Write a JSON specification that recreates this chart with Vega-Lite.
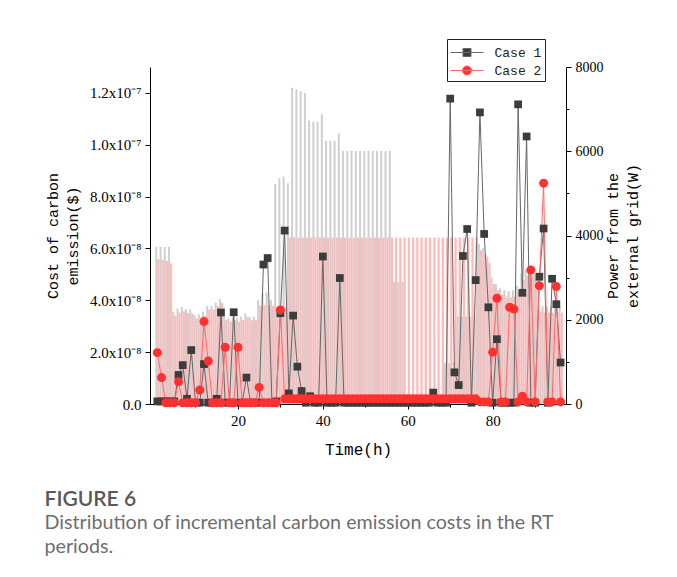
{
 "$schema": "https://vega.github.io/schema/vega-lite/v6.json",
 "width": 416,
 "height": 337,
 "autosize": {"type": "none"},
 "padding": {"left": 150, "top": 67, "right": 111, "bottom": 173},
 "background": "white",
 "config": {
  "view": {"stroke": null},
  "axis": {"grid": false, "domainColor": "#000", "tickColor": "#000", "labelColor": "#000", "titleColor": "#000", "labelFont": "Liberation Serif", "labelFontSize": 15, "titleFont": "Liberation Mono", "titleFontSize": 15, "titleFontWeight": "normal", "titleLineHeight": 20}
 },
 "title": {
  "text": "FIGURE 6",
  "subtitle": ["Distribution of incremental carbon emission costs in the RT", "periods."],
  "orient": "bottom", "anchor": "start", "frame": "bounds", "offset": 32, "dx": -1,
  "font": "Lato", "fontSize": 21, "fontWeight": 600, "color": "#585858",
  "subtitleFont": "Lato", "subtitleFontSize": 19.7, "subtitleColor": "#6e6e6e", "subtitleLineHeight": 24, "subtitlePadding": 3
 },
 "data": {"values": [
  {"t":1,"Case 1":1e-9,"Case 2":1.98e-8,"p1":3730,"p2":3435},
  {"t":2,"Case 1":1e-9,"Case 2":1.02e-8,"p1":3730,"p2":3420},
  {"t":3,"Case 1":1e-9,"Case 2":5e-10,"p1":3730,"p2":3395},
  {"t":4,"Case 1":1e-9,"Case 2":5e-10,"p1":3730,"p2":3340},
  {"t":5,"Case 1":1e-9,"Case 2":5e-10,"p1":2190,"p2":2100},
  {"t":6,"Case 1":1.12e-8,"Case 2":8.6e-9,"p1":2270,"p2":2170},
  {"t":7,"Case 1":1.5e-8,"Case 2":5e-10,"p1":2300,"p2":2200},
  {"t":8,"Case 1":2e-9,"Case 2":5e-10,"p1":2250,"p2":2160},
  {"t":9,"Case 1":2.08e-8,"Case 2":5e-10,"p1":2250,"p2":2150},
  {"t":10,"Case 1":5e-10,"Case 2":5e-10,"p1":2110,"p2":2030},
  {"t":11,"Case 1":5e-10,"Case 2":5.4e-9,"p1":2130,"p2":2050},
  {"t":12,"Case 1":1.54e-8,"Case 2":3.18e-8,"p1":2190,"p2":2100},
  {"t":13,"Case 1":5e-10,"Case 2":1.66e-8,"p1":2330,"p2":2240},
  {"t":14,"Case 1":5e-10,"Case 2":5e-10,"p1":2330,"p2":2240},
  {"t":15,"Case 1":2e-9,"Case 2":5e-10,"p1":2410,"p2":2320},
  {"t":16,"Case 1":3.53e-8,"Case 2":5e-10,"p1":2490,"p2":2400},
  {"t":17,"Case 1":5e-10,"Case 2":2.19e-8,"p1":2070,"p2":1990},
  {"t":18,"Case 1":5e-10,"Case 2":5e-10,"p1":2040,"p2":1960},
  {"t":19,"Case 1":3.54e-8,"Case 2":5e-10,"p1":2070,"p2":1990},
  {"t":20,"Case 1":5e-10,"Case 2":2.19e-8,"p1":2040,"p2":1960},
  {"t":21,"Case 1":5e-10,"Case 2":5e-10,"p1":2070,"p2":1990},
  {"t":22,"Case 1":1.02e-8,"Case 2":5e-10,"p1":2150,"p2":2060},
  {"t":23,"Case 1":5e-10,"Case 2":5e-10,"p1":2070,"p2":1990},
  {"t":24,"Case 1":5e-10,"Case 2":5e-10,"p1":2070,"p2":1990},
  {"t":25,"Case 1":5e-10,"Case 2":6.4e-9,"p1":2470,"p2":2330},
  {"t":26,"Case 1":5.38e-8,"Case 2":5e-10,"p1":2630,"p2":2350},
  {"t":27,"Case 1":5.63e-8,"Case 2":5e-10,"p1":2650,"p2":2350},
  {"t":28,"Case 1":5e-10,"Case 2":5e-10,"p1":2470,"p2":2330},
  {"t":29,"Case 1":1e-9,"Case 2":5e-10,"p1":5220,"p2":2300},
  {"t":30,"Case 1":3.5e-8,"Case 2":3.63e-8,"p1":5360,"p2":2300},
  {"t":31,"Case 1":6.69e-8,"Case 2":2e-9,"p1":5400,"p2":2300},
  {"t":32,"Case 1":4.1e-9,"Case 2":2e-9,"p1":5240,"p2":3950},
  {"t":33,"Case 1":3.41e-8,"Case 2":2e-9,"p1":7510,"p2":3950},
  {"t":34,"Case 1":1.44e-8,"Case 2":2e-9,"p1":7470,"p2":3950},
  {"t":35,"Case 1":5e-9,"Case 2":2e-9,"p1":7430,"p2":3950},
  {"t":36,"Case 1":5e-10,"Case 2":2e-9,"p1":7380,"p2":3950},
  {"t":37,"Case 1":3e-9,"Case 2":2e-9,"p1":6730,"p2":3950},
  {"t":38,"Case 1":5e-10,"Case 2":2e-9,"p1":6700,"p2":3950},
  {"t":39,"Case 1":5e-10,"Case 2":2e-9,"p1":6700,"p2":3950},
  {"t":40,"Case 1":5.69e-8,"Case 2":2e-9,"p1":6880,"p2":3950},
  {"t":41,"Case 1":5e-10,"Case 2":2e-9,"p1":6250,"p2":3950},
  {"t":42,"Case 1":5e-10,"Case 2":2e-9,"p1":6250,"p2":3950},
  {"t":43,"Case 1":5e-10,"Case 2":2e-9,"p1":6250,"p2":3950},
  {"t":44,"Case 1":4.86e-8,"Case 2":2e-9,"p1":6430,"p2":3950},
  {"t":45,"Case 1":5e-10,"Case 2":2e-9,"p1":6010,"p2":3950},
  {"t":46,"Case 1":5e-10,"Case 2":2e-9,"p1":6010,"p2":3950},
  {"t":47,"Case 1":5e-10,"Case 2":2e-9,"p1":6010,"p2":3950},
  {"t":48,"Case 1":5e-10,"Case 2":2e-9,"p1":6010,"p2":3950},
  {"t":49,"Case 1":5e-10,"Case 2":2e-9,"p1":6010,"p2":3950},
  {"t":50,"Case 1":5e-10,"Case 2":2e-9,"p1":6010,"p2":3950},
  {"t":51,"Case 1":5e-10,"Case 2":2e-9,"p1":6010,"p2":3950},
  {"t":52,"Case 1":5e-10,"Case 2":2e-9,"p1":6010,"p2":3950},
  {"t":53,"Case 1":5e-10,"Case 2":2e-9,"p1":6010,"p2":3950},
  {"t":54,"Case 1":5e-10,"Case 2":2e-9,"p1":6010,"p2":3950},
  {"t":55,"Case 1":5e-10,"Case 2":2e-9,"p1":6010,"p2":3950},
  {"t":56,"Case 1":5e-10,"Case 2":2e-9,"p1":6010,"p2":3950},
  {"t":57,"Case 1":5e-10,"Case 2":2e-9,"p1":2900,"p2":3950},
  {"t":58,"Case 1":5e-10,"Case 2":2e-9,"p1":2900,"p2":3950},
  {"t":59,"Case 1":5e-10,"Case 2":2e-9,"p1":2900,"p2":3950},
  {"t":60,"Case 1":5e-10,"Case 2":2e-9,"p1":0,"p2":3950},
  {"t":61,"Case 1":5e-10,"Case 2":2e-9,"p1":0,"p2":3950},
  {"t":62,"Case 1":5e-10,"Case 2":2e-9,"p1":0,"p2":3950},
  {"t":63,"Case 1":5e-10,"Case 2":2e-9,"p1":0,"p2":3950},
  {"t":64,"Case 1":5e-10,"Case 2":2e-9,"p1":0,"p2":3950},
  {"t":65,"Case 1":5e-10,"Case 2":2e-9,"p1":0,"p2":3950},
  {"t":66,"Case 1":4.4e-9,"Case 2":2e-9,"p1":0,"p2":3950},
  {"t":67,"Case 1":5e-10,"Case 2":2e-9,"p1":0,"p2":3950},
  {"t":68,"Case 1":5e-10,"Case 2":2e-9,"p1":0,"p2":3950},
  {"t":69,"Case 1":5e-10,"Case 2":2e-9,"p1":970,"p2":3950},
  {"t":70,"Case 1":1.178e-7,"Case 2":2e-9,"p1":970,"p2":3950},
  {"t":71,"Case 1":1.22e-8,"Case 2":2e-9,"p1":1000,"p2":3950},
  {"t":72,"Case 1":7.3e-9,"Case 2":2e-9,"p1":2080,"p2":3950},
  {"t":73,"Case 1":5.71e-8,"Case 2":2e-9,"p1":2080,"p2":3950},
  {"t":74,"Case 1":6.75e-8,"Case 2":2e-9,"p1":2080,"p2":3950},
  {"t":75,"Case 1":5e-10,"Case 2":2e-9,"p1":2080,"p2":3950},
  {"t":76,"Case 1":4.78e-8,"Case 2":2e-9,"p1":2080,"p2":3950},
  {"t":77,"Case 1":1.125e-7,"Case 2":8e-10,"p1":3800,"p2":3650},
  {"t":78,"Case 1":6.56e-8,"Case 2":8e-10,"p1":3700,"p2":3550},
  {"t":79,"Case 1":3.73e-8,"Case 2":8e-10,"p1":3500,"p2":3350},
  {"t":80,"Case 1":5e-10,"Case 2":2e-8,"p1":3000,"p2":2850},
  {"t":81,"Case 1":2.5e-8,"Case 2":4.08e-8,"p1":2850,"p2":2700},
  {"t":82,"Case 1":5e-10,"Case 2":8e-10,"p1":2750,"p2":2600},
  {"t":83,"Case 1":5e-10,"Case 2":8e-10,"p1":2700,"p2":2550},
  {"t":84,"Case 1":5e-10,"Case 2":3.73e-8,"p1":2680,"p2":2530},
  {"t":85,"Case 1":5e-10,"Case 2":3.66e-8,"p1":2700,"p2":2550},
  {"t":86,"Case 1":1.156e-7,"Case 2":8e-10,"p1":2800,"p2":2650},
  {"t":87,"Case 1":4.29e-8,"Case 2":3e-9,"p1":3100,"p2":2950},
  {"t":88,"Case 1":1.032e-7,"Case 2":8e-10,"p1":3200,"p2":3050},
  {"t":89,"Case 1":5e-10,"Case 2":5.17e-8,"p1":3200,"p2":3050},
  {"t":90,"Case 1":5e-10,"Case 2":8e-10,"p1":3100,"p2":2950},
  {"t":91,"Case 1":4.91e-8,"Case 2":4.56e-8,"p1":2350,"p2":2200},
  {"t":92,"Case 1":6.77e-8,"Case 2":8.52e-8,"p1":2320,"p2":2170},
  {"t":93,"Case 1":5e-10,"Case 2":8e-10,"p1":2320,"p2":2170},
  {"t":94,"Case 1":4.83e-8,"Case 2":8e-10,"p1":2320,"p2":2170},
  {"t":95,"Case 1":3.85e-8,"Case 2":4.53e-8,"p1":2320,"p2":2170},
  {"t":96,"Case 1":1.6e-8,"Case 2":8e-10,"p1":2320,"p2":2170}
 ]},
 "layer": [
  {
   "layer": [
    {
     "mark": {"type": "bar", "width": 2, "xOffset": -1, "color": "#cfcfcf"},
     "encoding": {
      "x": {"field": "t", "type": "quantitative", "scale": {"domain": [0.46, 96.1], "nice": false, "zero": false},
       "axis": {"title": "Time(h)", "titleFontSize": 16, "values": [10,20,30,40,50,60,70,80,90], "labelExpr": "datum.value % 20 == 0 ? datum.value : ''", "tickSize": {"condition": {"test": "datum.value % 20 != 0", "value": 3}, "value": 5}, "labelPadding": 4, "titlePadding": 13, "labelFlush": false}},
      "y": {"field": "p1", "type": "quantitative", "scale": {"domain": [0, 8000], "nice": false},
       "axis": {"orient": "right", "title": ["Power from the", "external grid(W)"], "titleAngle": -90, "labelFontSize": 14, "values": [0,1000,2000,3000,4000,5000,6000,7000,8000], "labelExpr": "datum.value % 2000 == 0 ? datum.value : ''", "tickSize": {"condition": {"test": "datum.value % 2000 != 0", "value": 3}, "value": 5}, "labelPadding": 4, "titlePadding": -3}}
     }
    },
    {
     "mark": {"type": "bar", "width": 2.3, "xOffset": 1.1, "color": "#ffbaba"},
     "encoding": {
      "x": {"field": "t", "type": "quantitative", "scale": {"domain": [0.46, 96.1], "nice": false, "zero": false}},
      "y": {"field": "p2", "type": "quantitative"}
     }
    }
   ]
  },
  {
   "transform": [{"fold": ["Case 1", "Case 2"], "as": ["series", "cost"]}],
   "layer": [
    {
     "mark": {"type": "line", "strokeWidth": 1},
     "encoding": {
      "x": {"field": "t", "type": "quantitative", "scale": {"domain": [0.46, 96.1], "nice": false, "zero": false}},
      "y": {"field": "cost", "type": "quantitative", "scale": {"domain": [0, 1.3e-7], "nice": false},
       "axis": {"orient": "left", "title": ["Cost of carbon", "emission($)"], "values": [0,1e-8,2e-8,3e-8,4e-8,5e-8,6e-8,7e-8,8e-8,9e-8,1e-7,1.1e-7,1.2e-7,1.3e-7],
        "labelExpr": "datum.value < 1e-10 ? '0.0' : (round(datum.value/1e-8) % 2 == 1 ? '' : (datum.value > 9.5e-8 ? format(datum.value*1e7, '.1f') + 'x10⁻⁷' : format(datum.value*1e8, '.1f') + 'x10⁻⁸'))",
        "tickSize": {"condition": {"test": "round(datum.value/1e-8) % 2 == 1", "value": 3}, "value": 5}, "labelPadding": 4, "titlePadding": 9}},
      "stroke": {"field": "series", "type": "nominal", "scale": {"range": ["#666666", "#ff6868"]},
       "legend": {"title": null, "orient": "none", "legendX": 297, "legendY": -28, "zindex": 5, "direction": "vertical", "strokeColor": "#222222", "fillColor": "white", "padding": 3, "symbolSize": 400, "symbolOffset": 6.5, "labelFont": "Liberation Mono", "labelFontSize": 13, "labelColor": "#222222", "labelOffset": 17, "rowPadding": -1,
        "encode": {"symbols": {"update": {
         "shape": {"signal": "datum.value === 'Case 1' ? 'M-1.65,0H1.65M-0.4,-0.4H0.4V0.4H-0.4Z' : 'M-1.65,0H1.65M0.45,0A0.45,0.45,0,1,1,-0.45,0A0.45,0.45,0,1,1,0.45,0'"},
         "fill": {"signal": "datum.value === 'Case 1' ? '#3c3c3c' : '#ff3030'"},
         "stroke": {"signal": "datum.value === 'Case 1' ? '#666666' : '#ff6868'"},
         "strokeWidth": {"value": 1}}}}}}
     }
    },
    {
     "mark": {"type": "point", "filled": true, "opacity": 1},
     "encoding": {
      "x": {"field": "t", "type": "quantitative", "scale": {"domain": [0.46, 96.1], "nice": false, "zero": false}},
      "y": {"field": "cost", "type": "quantitative"},
      "order": {"field": "series"},
      "size": {"field": "series", "type": "nominal", "scale": {"range": [60, 81]}, "legend": null},
      "shape": {"field": "series", "type": "nominal", "scale": {"range": ["square", "circle"]}, "legend": null},
      "fill": {"field": "series", "type": "nominal", "scale": {"range": ["#3c3c3c", "#ff3030"]}, "legend": null}
     }
    }
   ]
  }
 ],
 "resolve": {"scale": {"y": "independent"}}
}
